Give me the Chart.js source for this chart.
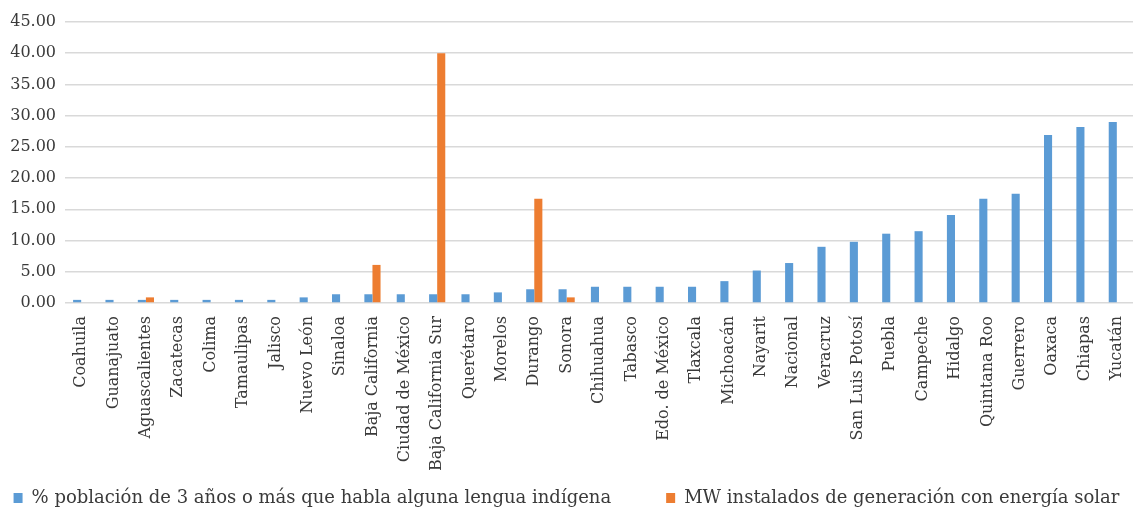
<!DOCTYPE html>
<html>
<head>
<meta charset="utf-8">
<script src="https://cdn.jsdelivr.net/npm/chart.js@4"></script>
<style>
  html, body { margin: 0; padding: 0; background: #fff; }
  #wrap { width: 1133px; height: 508px; }
</style>
</head>
<body>
<div id="wrap"><canvas id="chart" width="1133" height="508"></canvas></div>
<script>
const states = ['Coahuila', 'Guanajuato', 'Aguascalientes', 'Zacatecas', 'Colima', 'Tamaulipas', 'Jalisco',
    'Nuevo León', 'Sinaloa', 'Baja California', 'Ciudad de México', 'Baja California Sur', 'Querétaro',
    'Morelos', 'Durango', 'Sonora', 'Chihuahua', 'Tabasco', 'Edo. de México', 'Tlaxcala', 'Michoacán',
    'Nayarit', 'Nacional', 'Veracruz', 'San Luis Potosí', 'Puebla', 'Campeche', 'Hidalgo', 'Quintana Roo',
    'Guerrero', 'Oaxaca', 'Chiapas', 'Yucatán'];

const indigenousPct = [0.5, 0.5, 0.5, 0.5, 0.5, 0.5, 0.5, 0.9, 1.4, 1.4, 1.4, 1.4, 1.4,
    1.7, 2.2, 2.2, 2.6, 2.6, 2.6, 2.6, 3.5, 5.2, 6.4, 9.0, 9.8, 11.1, 11.5, 14.1, 16.7,
    17.5, 26.9, 28.2, 29.0];

const solarMW = [null, null, 0.9, null, null, null, null, null, null, 6.1, null, 40.0, null,
    null, 16.7, 0.9, null, null, null, null, null, null, null, null, null, null, null, null, null,
    null, null, null, null];

const seriesNames = ['% población de 3 años o más que habla alguna lengua indígena',
    'MW instalados de generación con energía solar'];

const yTicks = { min: 0, max: 45, step: 5 };

(function () {
    const font = 'DejaVu Serif';
    const textColor = '#3a3a3a';

    new Chart(document.getElementById('chart'), {
        type: 'bar',
        data: {
            labels: states,
            datasets: [{
                label: seriesNames[0],
                data: indigenousPct,
                backgroundColor: '#5b9bd5',
                categoryPercentage: 0.5,
                barPercentage: 1.0
            }, {
                label: seriesNames[1],
                data: solarMW,
                backgroundColor: '#ed7d31',
                categoryPercentage: 0.5,
                barPercentage: 1.0
            }]
        },
        options: {
            responsive: false,
            animation: false,
            layout: { padding: { top: 22, left: 0, right: 0, bottom: -9 } },
            plugins: {
                tooltip: { enabled: false },
                legend: {
                    position: 'bottom',
                    labels: {
                        font: { family: font, size: 18 },
                        color: textColor,
                        boxWidth: 9,
                        boxHeight: 10,
                        padding: 10,
                        generateLabels(chart) {
                            // widen the gap between the two entries
                            const items = Chart.defaults.plugins.legend.labels.generateLabels(chart);
                            items[0].text = items[0].text + '\u2003\u2003\u2002';
                            return items;
                        }
                    }
                }
            },
            scales: {
                x: {
                    grid: { display: false },
                    border: { display: false },
                    ticks: {
                        minRotation: 90,
                        maxRotation: 90,
                        autoSkip: false,
                        padding: 5,
                        font: { family: font, size: 16 },
                        color: textColor
                    },
                    afterFit(scale) {
                        scale.height = 176;
                        scale.paddingLeft = 0;
                        scale.paddingRight = 0;
                    }
                },
                y: {
                    min: yTicks.min,
                    max: yTicks.max,
                    border: { display: false },
                    grid: { color: '#d9d9d9', lineWidth: 1.5, drawTicks: false },
                    ticks: {
                        stepSize: yTicks.step,
                        padding: 9,
                        font: { family: font, size: 16 },
                        color: textColor,
                        callback: v => v.toFixed(2)
                    },
                    afterFit(scale) {
                        scale.width = 65;
                    }
                }
            }
        }
    });
})();
</script>
</body>
</html>
